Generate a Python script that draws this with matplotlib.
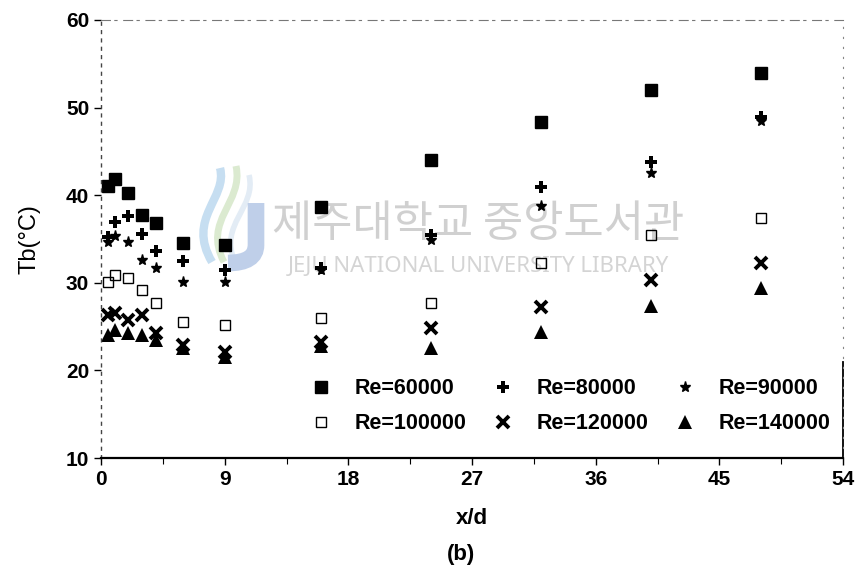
import numpy as np
import matplotlib
matplotlib.use("Agg")
import matplotlib.pyplot as plt
from matplotlib.path import Path
from matplotlib.patches import PathPatch

# axial positions and bulk temperatures for each Reynolds number
xd = [0.5, 1, 2, 3, 4, 6, 9, 16, 24, 32, 40, 48]
tb_60000 = [41.0, 41.8, 40.3, 37.7, 36.8, 34.5, 34.3, 38.6, 44.0, 48.3, 52.0, 53.9]
tb_80000 = [35.2, 36.9, 37.6, 35.6, 33.6, 32.5, 31.4, 31.7, 35.4, 40.9, 43.8, 48.9]
tb_90000 = [34.6, 35.3, 34.6, 32.6, 31.7, 30.1, 30.1, 31.5, 34.9, 38.8, 42.5, 48.5]
tb_100000 = [30.1, 30.9, 30.6, 29.2, 27.7, 25.5, 25.2, 26.0, 27.7, 32.3, 35.4, 37.4]
tb_120000 = [26.3, 26.6, 25.7, 26.3, 24.3, 22.9, 22.1, 23.2, 24.8, 27.2, 30.3, 32.3]
tb_140000 = [24.0, 24.6, 24.3, 24.0, 23.5, 22.6, 21.5, 22.8, 22.5, 24.4, 27.4, 29.4]

labels = ["Re=60000", "Re=80000", "Re=90000", "Re=100000", "Re=120000", "Re=140000"]
xticks = [0, 9, 18, 27, 36, 45, 54]
yticks = [10, 20, 30, 40, 50, 60]

plt.rcParams['font.family'] = ['Liberation Sans', 'DejaVu Sans']

fig = plt.figure(figsize=(8.63, 5.78), dpi=100)
ax = fig.add_axes([0.117, 0.2076, 0.860, 0.758])
ax.set_zorder(2)

h = []
h += ax.plot(xd, tb_60000, ls='none', marker='s', ms=8, color='k', label=labels[0])
h += ax.plot(xd, tb_80000, ls='none', marker='P', ms=9, color='k', mew=0, label=labels[1])
h += ax.plot(xd, tb_90000, ls='none', marker='*', ms=8, color='k', label=labels[2])
h += ax.plot(xd, tb_100000, ls='none', marker='s', ms=7, mfc='none', mec='k', mew=1.0, label=labels[3])
h += ax.plot(xd, tb_120000, ls='none', marker='x', ms=8, color='k', mew=2.8, label=labels[4])
h += ax.plot(xd, tb_140000, ls='none', marker='^', ms=10, color='k', mew=0, label=labels[5])

ax.set_xlim(0, 54)
ax.set_ylim(10, 60)
ax.set_xticks(xticks)
ax.set_xticks(np.arange(0, 54.1, 4.5), minor=True)
ax.set_yticks(yticks)
ax.tick_params(axis='both', which='major', labelsize=15, direction='out', length=5, width=1)
ax.tick_params(axis='x', which='minor', direction='out', length=4, width=0.8)
for lab in ax.get_xticklabels() + ax.get_yticklabels():
    lab.set_fontweight('bold')

# scanned-looking frame: solid bottom, broken left/top/right
ax.spines['bottom'].set_linewidth(1.6)
ax.spines['left'].set_linestyle((0, (2, 4)))
ax.spines['left'].set_color('#444444')
ax.spines['left'].set_linewidth(1.0)
ax.spines['top'].set_linestyle((0, (8, 4, 2, 6)))
ax.spines['top'].set_color('#777777')
ax.spines['right'].set_linestyle((0, (1, 8)))
ax.spines['right'].set_color('#888888')
ax.axvline(54, ymin=0, ymax=0.22, color='k', lw=1.3, clip_on=False)

ax.set_xlabel("x/d", fontsize=16, fontweight='bold', labelpad=14)
ax.set_ylabel("Tb(\u00b0C)", fontsize=17, labelpad=18)
fig.text(0.534, 0.04, "(b)", fontsize=16, fontweight='bold', ha='center', va='center')

# fill rows first: 60000/80000/90000 on top, the rest below
order = [0, 3, 1, 4, 2, 5]
leg = ax.legend([h[i] for i in order], [labels[i] for i in order], ncol=3,
                loc='lower right', bbox_to_anchor=(1.0, 0.025), frameon=False,
                prop={'size': 15.5, 'weight': 'bold'}, handlelength=1.0,
                handletextpad=1.05, columnspacing=1.2, labelspacing=0.65,
                borderaxespad=0.2)

# library watermark
fig.text(0.554, 0.613, "제주대학교 중앙도서관", fontsize=31.5, color='#d0d0d0',
         family=['Noto Sans CJK KR', 'DejaVu Sans'], ha='center', va='center', zorder=0)
fig.text(0.554, 0.539, "JEJU NATIONAL UNIVERSITY LIBRARY", fontsize=16, color='#d4d4d4',
         family=['Noto Sans', 'DejaVu Sans'], ha='center', va='center', zorder=0)

W, H = 863.0, 578.0
def fp(pts):
    return [(x / W, 1 - y / H) for x, y in pts]

# logo: swirl strokes and the J
swirls = [
    (fp([(212, 262), (186, 218), (228, 198), (220, 168)]), '#c6def1', 6),
    (fp([(224, 262), (202, 220), (244, 203), (236, 166)]), '#dbead0', 5),
    (fp([(235, 262), (218, 224), (257, 208), (249, 175)]), '#e3ecf5', 4),
]
for pts, col, lw in swirls:
    path = Path(pts, [Path.MOVETO, Path.CURVE4, Path.CURVE4, Path.CURVE4])
    fig.patches.append(PathPatch(path, transform=fig.transFigure, fill=False,
                                 edgecolor=col, lw=lw, zorder=0))
jpts = fp([(256, 203), (256, 245), (256, 263), (228, 263)])
jpath = Path(jpts, [Path.MOVETO, Path.LINETO, Path.CURVE3, Path.CURVE3])
fig.patches.append(PathPatch(jpath, transform=fig.transFigure, fill=False,
                             edgecolor='#bfcfe9', lw=12, zorder=0))

ax.set_facecolor('none')
fig.savefig("out.png", dpi=100)
